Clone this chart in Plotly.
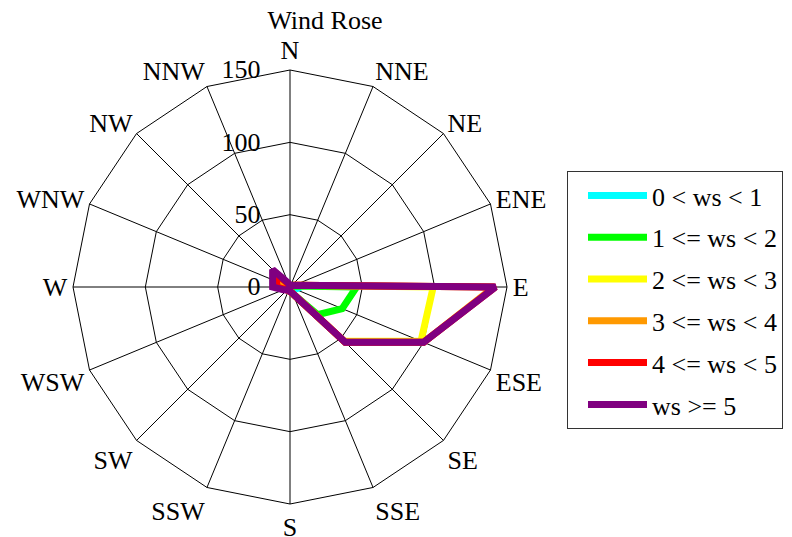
import plotly.graph_objects as go

directions = ["N", "NNE", "NE", "ENE", "E", "ESE", "SE", "SSE",
              "S", "SSW", "SW", "WSW", "W", "WNW", "NW", "NNW"]

series_names = ["0 < ws < 1", "1 <= ws < 2", "2 <= ws < 3",
                "3 <= ws < 4", "4 <= ws < 5", "ws >= 5"]
series_colors = ["#00FFFF", "#00FF00", "#FFFF00", "#FF9900", "#FF0000", "#800080"]

ws_0_1 = [0.5, 0.5, 0.5, 1, 2, 4, 3, 1, 0.5, 0.5, 0.5, 0.5, 1, 1, 1, 0.5]
ws_1_2 = [1, 1, 1, 2, 46, 39, 27, 5, 2, 1, 1, 1, 2, 2, 2, 1]
ws_2_3 = [1, 1, 1, 3, 99, 98, 53, 5, 3, 2, 2, 3, 4, 5, 5, 1]
ws_3_4 = [1, 1, 1, 3, 141, 100, 54, 5, 3, 2, 2, 4, 6, 7, 7, 1]
ws_4_5 = [1, 1, 1, 3, 142, 100, 54, 5, 3, 2, 3, 4, 9, 10, 11, 2]
ws_5_up = [1, 1, 1, 3, 142, 100, 54, 5, 3, 2, 3, 5, 12, 13, 17, 3]

radial_ticks = [0, 50, 100, 150]

all_series = [ws_0_1, ws_1_2, ws_2_3, ws_3_4, ws_4_5, ws_5_up]

FONT = "Liberation Serif, Times New Roman, serif"
FS = 26

fig = go.Figure()
for i, (name, color, vals) in enumerate(zip(series_names, series_colors, all_series)):
    fig.add_trace(go.Scatterpolar(
        r=vals + [vals[0]],
        theta=directions + [directions[0]],
        mode="lines",
        name=name,
        legendgroup=f"g{i}",
        line=dict(color=color, width=7),
    ))

# page has an 8px body margin: figure pixel = page pixel - 8
OFF = 8
W, H = 792 - OFF, 537 - OFF
cx, cy, R = 290 - OFF, 287 - OFF, 217
fig.update_layout(
    width=W, height=H,
    margin=dict(l=0, r=0, t=0, b=0),
    paper_bgcolor="white",
    plot_bgcolor="white",
    font=dict(family=FONT, size=FS, color="black"),
    title=dict(text="Wind Rose", x=(325 - OFF) / W, y=1 - 3 / H,
               xanchor="center", yanchor="top",
               font=dict(family=FONT, size=FS, color="black")),
    polar=dict(
        domain=dict(x=[(cx - R) / W, (cx + R) / W],
                    y=[(H - cy - R) / H, (H - cy + R) / H]),
        gridshape="linear",
        bgcolor="white",
        angularaxis=dict(
            type="category",
            categoryarray=directions,
            direction="clockwise",
            rotation=90,
            showline=True, linecolor="black", linewidth=1,
            showgrid=True, gridcolor="black", gridwidth=1,
            ticks="",
            tickfont=dict(family=FONT, size=FS, color="black"),
        ),
        radialaxis=dict(
            range=[0, 150],
            tickvals=radial_ticks,
            ticktext=[str(v) for v in radial_ticks],
            angle=90,
            side="counterclockwise",
            tickangle=90,
            showline=False,
            showgrid=True, gridcolor="black", gridwidth=1,
            ticks="outside", ticklen=20, tickcolor="rgba(0,0,0,0)",
            tickfont=dict(family=FONT, size=FS, color="black"),
        ),
    ),
    showlegend=True,
    legend=dict(
        x=(567 - OFF) / W, y=1 - (171 - OFF) / H, xanchor="left", yanchor="top",
        bordercolor="#333333", borderwidth=1, bgcolor="white",
        font=dict(family=FONT, size=FS, color="black"),
        tracegroupgap=5,
        traceorder="grouped",
        itemwidth=59,
        indentation=15,
    ),
)

fig.write_html("out.html")
